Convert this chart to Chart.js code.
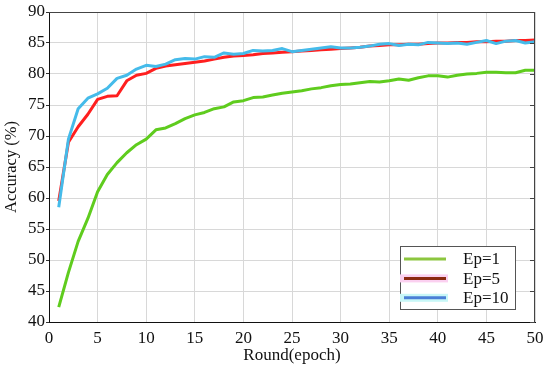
<!DOCTYPE html>
<html lang="en">
<head>
    <meta charset="UTF-8">
    <title>Accuracy vs Round</title>
    <script src="https://cdn.jsdelivr.net/npm/chart.js"></script>
    <style>
        body { margin: 0; background: #fff; }
        .chart-container { width: 550px; height: 369px; }
    </style>
</head>
<body>
    <div class="chart-container">
        <canvas id="accChart"></canvas>
    </div>

    <script>
        // rounds 1..50
        const rounds = Array.from({ length: 50 }, (_, i) => i + 1);
        const seriesNames = ['Ep=1', 'Ep=5', 'Ep=10'];

        const ep1 = [42.4, 48.0, 53.0, 56.7, 61.0, 63.8, 65.7, 67.3, 68.6, 69.5,
                     71.0, 71.3, 72.0, 72.8, 73.4, 73.8, 74.4, 74.7, 75.5, 75.7,
                     76.2, 76.3, 76.6, 76.9, 77.1, 77.3, 77.6, 77.8, 78.1, 78.3,
                     78.4, 78.6, 78.8, 78.7, 78.9, 79.2, 79.0, 79.4, 79.7, 79.7,
                     79.5, 79.8, 80.0, 80.1, 80.3, 80.3, 80.2, 80.2, 80.6, 80.6];
        const ep5 = [59.5, 69.0, 71.5, 73.5, 75.9, 76.4, 76.5, 78.9, 79.8, 80.1,
                     80.9, 81.3, 81.5, 81.7, 81.9, 82.1, 82.4, 82.7, 82.9, 83.0,
                     83.1, 83.3, 83.4, 83.5, 83.6, 83.7, 83.8, 83.9, 84.0, 84.1,
                     84.2, 84.3, 84.5, 84.6, 84.7, 84.7, 84.8, 84.8, 84.9, 85.0,
                     85.0, 85.1, 85.1, 85.2, 85.2, 85.3, 85.3, 85.4, 85.4, 85.5];
        const ep10 = [58.5, 69.5, 74.4, 76.1, 76.8, 77.7, 79.3, 79.8, 80.8, 81.4,
                      81.2, 81.6, 82.3, 82.5, 82.4, 82.8, 82.7, 83.4, 83.2, 83.3,
                      83.8, 83.7, 83.8, 84.1, 83.6, 83.8, 84.0, 84.2, 84.4, 84.2,
                      84.2, 84.3, 84.5, 84.8, 84.9, 84.6, 84.8, 84.7, 85.1, 85.0,
                      84.9, 85.0, 84.8, 85.1, 85.4, 84.9, 85.3, 85.4, 85.0, 85.2];

        const toPoints = arr => arr.map((v, i) => ({ x: rounds[i], y: v }));

        const serif = 'Liberation Serif, Times New Roman, serif';

        // legend drawn inside plot, bottom right, with the odd swatch colours of the original
        const boxLegend = {
            id: 'boxLegend',
            afterDraw(chart) {
                const ctx = chart.ctx;
                const x0 = 400, y0 = 246, w = 115, h = 63;
                ctx.save();
                ctx.fillStyle = '#fff';
                ctx.fillRect(x0, y0, w, h);
                ctx.strokeStyle = '#555';
                ctx.lineWidth = 1;
                ctx.strokeRect(x0 + 0.5, y0 + 0.5, w, h);
                const swatch = ['#8cc63f', '#8b2a10', '#4a7fd6'];
                const halo = [null, '#fbd0f0', '#c8f7f7'];
                chart.data.datasets.forEach((ds, i) => {
                    const y = 259 + i * 19.4;
                    if (halo[i]) {
                        ctx.fillStyle = halo[i];
                        ctx.fillRect(400, y - 4, 48, 8);
                    }
                    ctx.strokeStyle = swatch[i];
                    ctx.lineWidth = 3;
                    ctx.beginPath();
                    ctx.moveTo(404, y);
                    ctx.lineTo(446, y);
                    ctx.stroke();
                    ctx.fillStyle = '#111';
                    ctx.font = '17px ' + serif;
                    ctx.textBaseline = 'middle';
                    ctx.fillText(ds.label, 463, y + 1);
                });
                ctx.restore();
            }
        };

        // top/right frame and inward tick marks on the right
        const frame = {
            id: 'frame',
            afterDatasetsDraw(chart) {
                const ctx = chart.ctx;
                const a = chart.chartArea;
                const ys = chart.scales.y;
                ctx.save();
                ctx.strokeStyle = '#444';
                ctx.lineWidth = 1;
                ctx.beginPath();
                ctx.moveTo(a.left, a.top + 0.5);
                ctx.lineTo(a.right - 0.5, a.top + 0.5);
                ctx.lineTo(a.right - 0.5, a.bottom);
                ctx.stroke();
                ys.ticks.forEach(t => {
                    const py = Math.round(ys.getPixelForValue(t.value)) + 0.5;
                    ctx.beginPath();
                    ctx.moveTo(a.right - 5, py);
                    ctx.lineTo(a.right, py);
                    ctx.stroke();
                });
                ctx.restore();
            }
        };

        const ctx = document.getElementById('accChart').getContext('2d');
        new Chart(ctx, {
            type: 'line',
            data: {
                datasets: [
                    { label: seriesNames[0], data: toPoints(ep1), borderColor: '#5fcc1e', borderWidth: 3, order: 3 },
                    { label: seriesNames[1], data: toPoints(ep5), borderColor: '#ff1f1f', borderWidth: 3, order: 2 },
                    { label: seriesNames[2], data: toPoints(ep10), borderColor: '#45bbea', borderWidth: 3, order: 1 }
                ]
            },
            options: {
                responsive: true,
                maintainAspectRatio: false,
                animation: false,
                elements: { point: { radius: 0 }, line: { tension: 0, borderJoinStyle: 'round' } },
                layout: { padding: { top: 12, right: 15, left: 0, bottom: 0 } },
                plugins: {
                    legend: { display: false },
                    tooltip: { enabled: false }
                },
                scales: {
                    x: {
                        type: 'linear',
                        min: 0,
                        max: 50,
                        afterFit: s => { s.height = 47; },
                        ticks: { stepSize: 5, color: '#111', padding: 6, font: { family: serif, size: 17 } },
                        grid: { color: '#d8d8d8', drawTicks: false },
                        border: { color: '#111', width: 1 },
                        title: {
                            display: true,
                            text: 'Round(epoch)',
                            color: '#111',
                            font: { family: serif, size: 17 },
                            padding: { top: 0, bottom: 3 }
                        }
                    },
                    y: {
                        min: 40,
                        max: 90,
                        afterFit: s => { s.width = 49; },
                        ticks: { stepSize: 5, color: '#111', padding: 1, font: { family: serif, size: 17 } },
                        grid: { color: '#d8d8d8', drawTicks: true, tickLength: 3, tickColor: '#333' },
                        border: { color: '#111', width: 1 },
                        title: {
                            display: true,
                            text: 'Accuracy (%)',
                            color: '#111',
                            font: { family: serif, size: 16.5 },
                            padding: { top: 2, bottom: 0 }
                        }
                    }
                }
            },
            plugins: [frame, boxLegend]
        });
    </script>
</body>
</html>
